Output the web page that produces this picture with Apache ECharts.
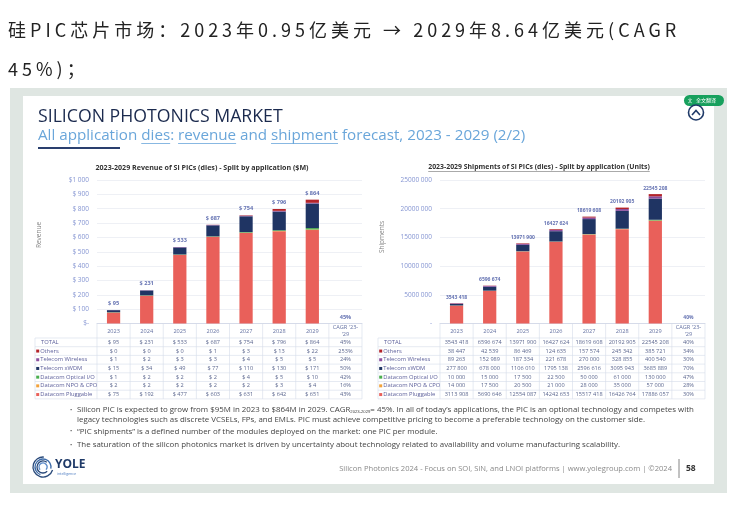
<!DOCTYPE html>
<html>
<head>
<meta charset="utf-8">
<script src="https://cdn.jsdelivr.net/npm/echarts@6.0.0/dist/echarts.min.js"></script>
<style>
html, body { margin: 0; padding: 0; background: #fff; }
#head { position: absolute; left: 8px; top: 10px; width: 726px; font-family: "Noto Sans CJK SC"; font-size: 18px;
        letter-spacing: 4px; line-height: 39px; color: #222; z-index: 2; white-space: nowrap; }
#main { position: absolute; left: 0; top: 0; width: 734px; height: 507px; }
</style>
</head>
<body>
<div id="main"></div>
<div id="head">硅PIC芯片市场：2023年0.95亿美元 → 2029年8.64亿美元(CAGR<br>45%)；</div>
<script>
// 类目 (表头)
var years = ['2023', '2024', '2025', '2026', '2027', '2028', '2029'];
var cagrHead = "CAGR '23-\n'29";

// 表格行顺序
var segNames = ['Others', 'Telecom Wireless', 'Telecom xWDM', 'Datacom Optical I/O', 'Datacom NPO & CPO', 'Datacom Pluggable'];

// 营收 ($M)
var revOthers = [0, 0, 0, 1, 3, 13, 22];
var revWireless = [1, 2, 3, 3, 4, 5, 5];
var revXwdm = [15, 34, 49, 77, 110, 130, 171];
var revOptical = [1, 2, 2, 2, 4, 5, 10];
var revNpo = [2, 2, 2, 2, 2, 3, 4];
var revPluggable = [75, 192, 477, 603, 631, 642, 651];
var revTotal = [95, 231, 533, 687, 754, 796, 864];
var revCagr = ['45%', '253%', '24%', '50%', '42%', '16%', '43%']; // TOTAL + 各行

// 出货量 (Units)
var shipOthers = [38447, 42539, 86469, 124635, 157574, 245342, 385721];
var shipWireless = [89263, 152989, 187334, 221678, 270000, 328855, 400540];
var shipXwdm = [277800, 678000, 1106010, 1795138, 2596616, 3095943, 3685889];
var shipOptical = [10000, 15000, 17500, 22500, 50000, 61000, 130000];
var shipNpo = [14000, 17500, 20500, 21000, 28000, 35000, 57000];
var shipPluggable = [3113908, 5690646, 12554087, 14242653, 15517418, 16426764, 17886057];
var shipTotal = [3543418, 6596674, 13971900, 16427624, 18619608, 20192905, 22545208];
var shipCagr = ['40%', '34%', '30%', '70%', '47%', '28%', '30%'];

// 刻度标签
var revTicks = ['$-', '$ 100', '$ 200', '$ 300', '$ 400', '$ 500', '$ 600', '$ 700', '$ 800', '$ 900', '$1 000'];
var shipTicks = ['-', '5000 000', '10000 000', '15000 000', '20000 000', '25000 000'];

var revSeg = [revOthers, revWireless, revXwdm, revOptical, revNpo, revPluggable];
var shipSeg = [shipOthers, shipWireless, shipXwdm, shipOptical, shipNpo, shipPluggable];
var segColors = ['#b3242a', '#8b4f9e', '#1f3463', '#4aae4f', '#f2a23c', '#e9605a'];

var FF = '"Open Sans", "Noto Sans", sans-serif';
var cats = years.concat([cagrHead]);

function fmtUsd(v) { return '$ ' + v; }
function fmtUnits(v) {
    if (v < 1000) return String(v);
    return Math.floor(v / 1000) + ' ' + String(v % 1000).padStart(3, '0');
}

var mctx = document.createElement('canvas').getContext('2d');
function mw(s, size, weight) {
    mctx.font = (weight || 'normal') + ' ' + size + 'px ' + FF;
    return mctx.measureText(s).width;
}

function T(x, y, s, size, color, opt) {
    opt = opt || {};
    return {
        type: 'text', x: x, y: y, silent: true, z: 10, rotation: opt.rotation || 0,
        style: {
            text: s, fill: color, fontSize: size, fontFamily: opt.family || FF,
            fontWeight: opt.weight || 'normal',
            textAlign: opt.align || 'left', textVerticalAlign: 'middle',
            align: opt.align || 'left', verticalAlign: 'middle',
            rich: opt.rich
        }
    };
}
function Ln(x1, y1, x2, y2, color, w) {
    return { type: 'line', silent: true, z: 10, shape: { x1: x1, y1: y1, x2: x2, y2: y2 }, style: { stroke: color, lineWidth: w || 0.6 } };
}
function Rc(x, y, w, h, fill, r) {
    return { type: 'rect', silent: true, z: 10, shape: { x: x, y: y, width: w, height: h, r: r || 0 }, style: { fill: fill } };
}

// 表格
function table(x0, x1, labX, rows) {
    var cw = (x1 - x0) / 8, els = [], top = 338, rh = 8.7, bc = '#d5dbea';
    for (var k = 0; k <= 8; k++) els.push(Ln(x0 + cw * k, 323.5, x0 + cw * k, top + rh * 7, bc, 0.6));
    els.push(Ln(labX, top, labX, top + rh * 7, bc, 0.6));
    for (var r = 0; r <= 7; r++) els.push(Ln(labX, top + rh * r, x1, top + rh * r, bc, 0.6));
    rows.forEach(function (row, r) {
        var cy = top + rh * (r + 0.5);
        if (row.color) els.push(Rc(labX + 1.2, cy - 1.5, 3, 3, row.color));
        els.push(T(labX + (row.color ? 5.2 : 6), cy, row.name, 5.8, '#5b5e9a'));
        row.cells.forEach(function (c, i) {
            els.push(T(x0 + cw * (i + 0.5), cy, c, 5.6, '#5d6890', { align: 'center' }));
        });
    });
    return els;
}

function rowsOf(totals, segs, cagr, fmt) {
    var rows = [{ name: 'TOTAL', cells: totals.map(fmt).concat([cagr[0]]) }];
    segNames.forEach(function (n, i) {
        rows.push({ name: n, color: segColors[i], cells: segs[i].map(fmt).concat([cagr[i + 1]]) });
    });
    return rows;
}

var g = [];
// 灰色外框
var gray = '#dfe6e2';
g.push(Rc(10, 88, 717, 8, gray), Rc(10, 484, 717, 9, gray), Rc(10, 96, 13, 388, gray), Rc(714, 96, 13, 388, gray));

// 标题
g.push(T(38, 117, 'SILICON PHOTONICS MARKET', 17.7, '#1b2a4e'));
var subParts = [['All application ', 0], ['dies', 1], [': ', 0], ['revenue', 1], [' and ', 0], ['shipment', 1], [' forecast, 2023 - 2029 (2/2)', 0]];
var sx = 38, subSize = 15.2;
subParts.forEach(function (p) {
    var w = mw(p[0], subSize);
    g.push(T(sx, 136, p[0], subSize, '#6aa6da'));
    if (p[1]) g.push(Ln(sx, 143.5, sx + w, 143.5, '#6aa6da', 0.8));
    sx += w;
});
g.push(Ln(38, 148, 120, 148, '#2a3f6e', 2));

// 右上角按钮
g.push(Rc(684, 95, 40, 11, '#17a05d', 5.5));
g.push(T(706, 100.5, '全文翻译', 5, '#ffffff', { align: 'center', family: '"Noto Sans CJK SC"' }));
g.push(T(690, 100.5, '文', 4.5, '#ffffff', { align: 'center', family: '"Noto Sans CJK SC"' }));
g.push({ type: 'circle', silent: true, z: 10, shape: { cx: 696, cy: 112.5, r: 7.5 }, style: { fill: '#fff', stroke: '#1f3a68', lineWidth: 1.6 } });
g.push({ type: 'polyline', silent: true, z: 11, shape: { points: [[692, 115], [696, 110.5], [700, 115]] }, style: { fill: null, stroke: '#1f3a68', lineWidth: 1.6 } });

// 图表标题
var t1 = '2023-2029 Revenue of Si PICs (dies) - Split by application ($M)';
var t2 = '2023-2029 Shipments of Si PICs (dies) - Split by application (Units)';
g.push(T(202, 167.5, t1, 7.1, '#333', { align: 'center', weight: 'bold' }));
g.push(T(539, 167, t2, 6.9, '#333', { align: 'center', weight: 'bold' }));
var w2 = mw(t2, 6.9, 'bold');
g.push(Ln(539 - w2 / 2, 171.5, 539 + w2 / 2, 171.5, '#555', 0.5));

// 坐标轴名称
g.push(T(39, 235, 'Revenue', 6.5, '#888', { align: 'center', rotation: Math.PI / 2 }));
g.push(T(382, 237, 'Shipments', 6.5, '#888', { align: 'center', rotation: Math.PI / 2 }));

// 表格
g = g.concat(table(97, 362, 35, rowsOf(revTotal, revSeg, revCagr, fmtUsd)));
g = g.concat(table(440, 705, 378, rowsOf(shipTotal, shipSeg, shipCagr, fmtUnits)));

// 要点
var bl = [
    [410, 'Silicon PIC is expected to grow from $95M in 2023 to $864M in 2029. CAGR{s|2023-2029}= 45%. In all of today\u2019s applications, the PIC is an optional technology and competes with', true],
    [419.5, 'legacy technologies such as discrete VCSELs, FPs, and EMLs. PIC must achieve competitive pricing to become a preferable technology on the customer side.', false],
    [431.5, '\u201cPIC shipments\u201d is a defined number of the modules deployed on the market: one PIC per module.', true],
    [445, 'The saturation of the silicon photonics market is driven by uncertainty about technology related to availability and volume manufacturing scalability.', true]
];
bl.forEach(function (b) {
    if (b[2]) g.push(T(70, b[0], '\u2022', 6, '#555'));
    g.push(T(77, b[0], b[1], 7.9, '#444', { rich: { s: { fontSize: 4.2, fill: '#444', color: '#444', padding: [3, 0, 0, 0] } } }));
});

// 页脚
[[10, 0.3, 2.6, '#2a4a7a'], [8, 1.9, 4.3, '#3b6aa8'], [6, 0.8, 3.2, '#2a4a7a'], [4, 2.4, 4.8, '#5b8ac8']].forEach(function (a) {
    g.push({ type: 'arc', silent: true, z: 10, shape: { cx: 43, cy: 467, r: a[0], startAngle: a[1], endAngle: a[2] + 2.2 }, style: { fill: null, stroke: a[3], lineWidth: 1.3 } });
});
g.push(T(55, 465, 'YOLE', 12, '#1f3a68', { weight: 'bold' }));
g.push(T(57, 474, 'intelligence', 3.6, '#4a7ac0'));
g.push(T(672, 469, 'Silicon Photonics 2024 - Focus on SOI, SiN, and LNOI platforms | www.yolegroup.com | \u00a92024', 7.6, '#8a8a8a', { align: 'right' }));
g.push(Ln(679, 459, 679, 478, '#666', 0.8));
g.push(T(686, 469, '58', 8.5, '#333', { weight: 'bold' }));

// 柱状图系列
function barSeries(segs, axis, stack) {
    var out = [];
    for (var i = segs.length - 1; i >= 0; i--) {
        out.push({
            name: segNames[i], type: 'bar', stack: stack, xAxisIndex: axis, yAxisIndex: axis,
            barWidth: '40%', data: segs[i].concat(['-']),
            itemStyle: { color: segColors[i] }
        });
    }
    return out;
}
function totalSeries(totals, cagr, fmt, axis, size) {
    return {
        type: 'scatter', xAxisIndex: axis, yAxisIndex: axis, symbolSize: 1, z: 5,
        itemStyle: { color: 'rgba(0,0,0,0)' }, data: totals.concat([0]),
        label: {
            show: true, position: 'top', distance: 3, fontSize: size, fontWeight: 'bold', color: '#3d4f9f', fontFamily: FF,
            formatter: function (p) { return p.dataIndex < totals.length ? fmt(totals[p.dataIndex]) : cagr[0]; }
        }
    };
}

function xAx(idx) {
    return {
        type: 'category', gridIndex: idx, data: cats,
        axisLine: { lineStyle: { color: '#cfd5e6', width: 0.8 } },
        axisTick: { show: false },
        axisLabel: { fontSize: 5.6, color: '#6673a3', margin: 7.5, verticalAlign: 'middle', lineHeight: 6.2, interval: 0, fontFamily: FF }
    };
}
function yAx(idx, max, interval, ticks) {
    return {
        type: 'value', gridIndex: idx, min: 0, max: max, interval: interval,
        axisLabel: { fontSize: 6.5, color: '#8595d2', margin: 8, fontFamily: FF,
            formatter: function (v) { return ticks[Math.round(v / interval)]; } },
        splitLine: { lineStyle: { color: '#e6e9f0', width: 0.7 } },
        axisLine: { show: false }, axisTick: { show: false }
    };
}

var option = {
    animation: false,
    backgroundColor: '#fff',
    grid: [
        { left: 97, right: 372, top: 180, height: 143.5 },
        { left: 440, right: 29, top: 180, height: 143.5 }
    ],
    xAxis: [xAx(0), xAx(1)],
    yAxis: [yAx(0, 1000, 100, revTicks), yAx(1, 25000000, 5000000, shipTicks)],
    series: barSeries(revSeg, 0, 'rev')
        .concat(barSeries(shipSeg, 1, 'ship'))
        .concat([totalSeries(revTotal, revCagr, fmtUsd, 0, 5.6), totalSeries(shipTotal, shipCagr, fmtUnits, 1, 5)]),
    graphic: { elements: g }
};

var chart = echarts.init(document.getElementById('main'));
chart.setOption(option);
</script>
</body>
</html>
